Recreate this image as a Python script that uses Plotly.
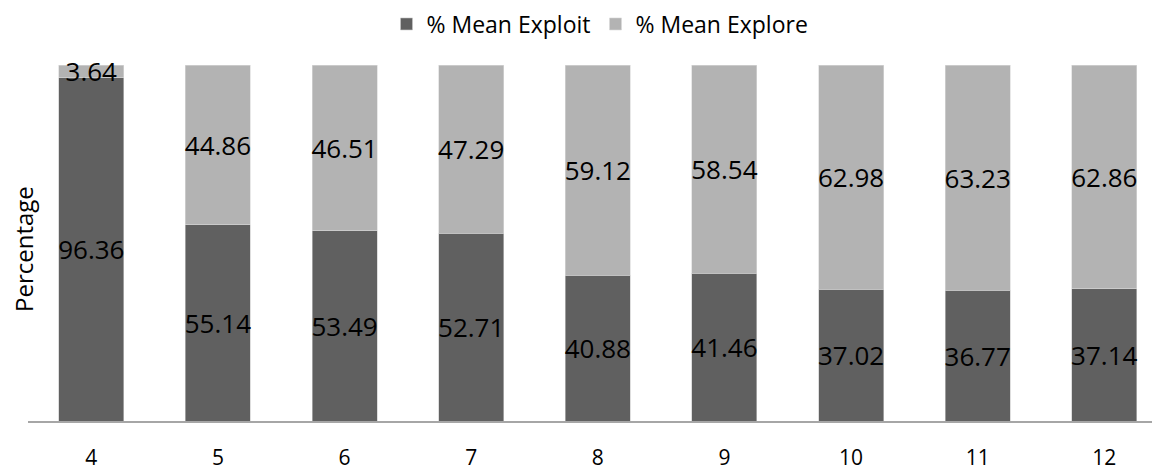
import plotly.graph_objects as go

categories = ["4", "5", "6", "7", "8", "9", "10", "11", "12"]
exploit = [96.36, 55.14, 53.49, 52.71, 40.88, 41.46, 37.02, 36.77, 37.14]
explore = [3.64, 44.86, 46.51, 47.29, 59.12, 58.54, 62.98, 63.23, 62.86]

FONT = "Open Sans"
# the page body adds an 8px offset, so the figure is 8px smaller
W, H = 1152, 462
L, R, T, B = 20, 0, 57, 49
PW = W - L - R
PH = H - T - B

fig = go.Figure()
fig.add_bar(
    x=categories, y=exploit, name="% Mean Exploit",
    marker=dict(color="#606060", line=dict(color="#c8c8c8", width=0.6)),
    text=[f"{v:.2f}" for v in exploit], textposition="inside", textangle=0,
    insidetextanchor="middle", constraintext="none",
    textfont=dict(family=FONT, size=26, color="black"),
)
fig.add_bar(
    x=categories, y=explore, name="% Mean Explore",
    marker=dict(color="#b3b3b3", line=dict(color="#d8d8d8", width=0.6)),
    text=[f"{v:.2f}" for v in explore], textposition="inside", textangle=0,
    insidetextanchor="middle", constraintext="none",
    textfont=dict(family=FONT, size=26, color="black"),
)

fig.update_layout(
    width=W, height=H,
    barmode="stack", bargap=0.487,
    paper_bgcolor="white", plot_bgcolor="white",
    margin=dict(l=L, r=R, t=T, b=B, autoexpand=False),
    font=dict(family=FONT, size=21, color="black"),
    showlegend=True,
    legend=dict(orientation="h", x=(592 - L) / PW, xanchor="center",
                y=(H - B - 16) / PH, yanchor="middle",
                font=dict(family=FONT, size=23, color="black"), traceorder="normal"),
    annotations=[dict(text="Percentage", textangle=-90, showarrow=False,
                      xref="paper", yref="paper",
                      x=(16 - L) / PW, y=(H - B - 241) / PH,
                      xanchor="center", yanchor="middle",
                      font=dict(family=FONT, size=24, color="black"))],
)
fig.update_xaxes(
    type="category", range=[-0.5, 8.44], automargin=False,
    showline=True, linecolor="#a6a6a6", linewidth=1.5,
    ticks="", showgrid=False, ticklabelstandoff=17,
    tickfont=dict(family=FONT, size=21, color="black"),
)
fig.update_yaxes(
    range=[0, 100], showticklabels=False, showgrid=False, zeroline=False,
    showline=False, ticks="", automargin=False,
)
fig.update_traces(cliponaxis=False)

fig.write_html("out.html")
